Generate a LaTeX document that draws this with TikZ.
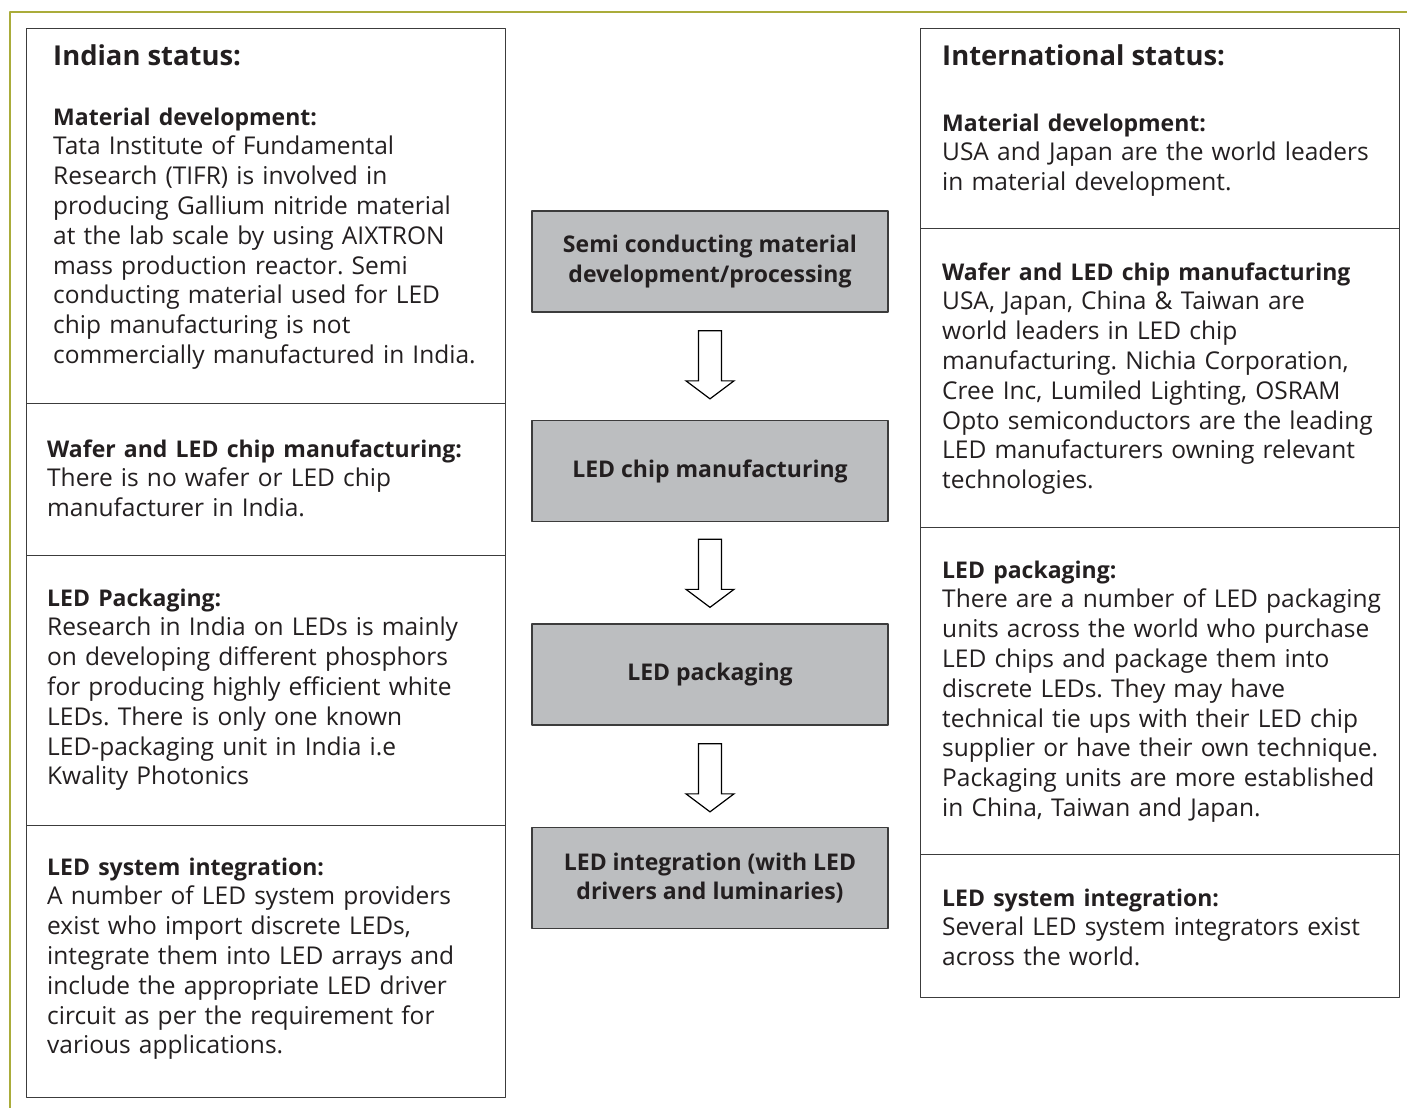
\documentclass[tikz,border=0pt]{standalone}
\usepackage{fontspec}
\setmainfont{Open Sans}
\usetikzlibrary{calc}
\definecolor{framegreen}{RGB}{170,172,58}
\definecolor{inkdark}{RGB}{35,31,32}
\definecolor{stagegrey}{RGB}{188,190,192}
\definecolor{ruledark}{RGB}{60,60,60}
\frenchspacing
\newcommand{\stdsize}{\fontsize{24.5bp}{29.8bp}\selectfont}
\newcommand{\boldsize}{\fontsize{23bp}{29.8bp}\selectfont\bfseries}
\newcommand{\titlesize}{\fontsize{27.4bp}{32bp}\selectfont}
\newcommand{\sechead}[1]{{\boldsize #1}}
\tikzset{
  panel/.style={draw=ruledark,line width=1.3bp,inner sep=0,anchor=north west,minimum width=479bp},
  stage/.style={draw=ruledark,fill=stagegrey,line width=1.3bp,inner sep=0,minimum width=356bp,minimum height=101bp,align=center,font=\boldsize,text=inkdark},
  sect/.style={anchor=base west,inner sep=0,text width=455bp,align=left,font=\stdsize,text=inkdark},
  heading/.style={anchor=base west,inner sep=0,font=\titlesize\bfseries,text=inkdark},
  hollow/.style={draw=black,line width=1.2bp,fill=white,line join=miter},
}
\begin{document}
\begin{tikzpicture}[line join=bevel,]
\useasboundingbox (0bp,0bp) rectangle (1407bp,-1108bp);
\draw [framegreen,line width=1.6bp] (10bp,-1108bp) -- (10bp,-12bp) -- (1407bp,-12bp);
%% Indian status panel
\node (in_panel_1) at (26bp,-28bp) [panel,minimum height=375bp] {};
\node (in_panel_2) at (26bp,-403bp) [panel,minimum height=152bp] {};
\node (in_panel_3) at (26bp,-555bp) [panel,minimum height=270bp] {};
\node (in_panel_4) at (26bp,-825bp) [panel,minimum height=272bp] {};
\node (in_title) at (53bp,-65bp) [heading] {Indian status:};
\node (in_text_1) at (53bp,-125bp) [sect] {\sechead{Material development:}\\
  Tata Institute of Fundamental\\ Research (TIFR) is involved in\\
  producing Gallium nitride material\\ at the lab scale by using AIXTRON\\
  mass production reactor. Semi\\ conducting material used for LED\\
  chip manufacturing is not\\ commercially manufactured in India.};
\node (in_text_2) at (47bp,-457bp) [sect] {\sechead{Wafer and LED chip manufacturing:}\\
  There is no wafer or LED chip\\ manufacturer in India.};
\node (in_text_3) at (47bp,-606bp) [sect] {\sechead{LED Packaging:}\\
  Research in India on LEDs is mainly\\ on developing different phosphors\\
  for producing highly efficient white\\ LEDs. There is only one known\\
  LED-packaging unit in India i.e\\ Kwality Photonics};
\node (in_text_4) at (47bp,-875bp) [sect] {\sechead{LED system integration:}\\
  A number of LED system providers\\ exist who import discrete LEDs,\\
  integrate them into LED arrays and\\ include the appropriate LED driver\\
  circuit as per the requirement for\\ various applications.};
%% value chain
\node (stage_1) at (710bp,-261.5bp) [stage] {Semi conducting material\\development/processing};
\node (stage_2) at (710bp,-471bp) [stage] {LED chip manufacturing};
\node (stage_3) at (710bp,-674.5bp) [stage] {LED packaging};
\node (stage_4) at (710bp,-878bp) [stage] {LED integration (with LED\\drivers and luminaries)};
\draw [hollow] ($(stage_1.south)+(-11.5bp,-18bp)$) -- ($(stage_2.north)+(-11.5bp,39bp)$) -- ++(-12.5bp,0bp) -- ($(stage_2.north)+(0bp,21bp)$) -- ++(24bp,18bp) -- ++(-12.5bp,0bp) -- ($(stage_1.south)+(11.5bp,-18bp)$) -- cycle;
\draw [hollow] ($(stage_2.south)+(-11.5bp,-17bp)$) -- ($(stage_3.north)+(-11.5bp,34bp)$) -- ++(-12.5bp,0bp) -- ($(stage_3.north)+(0bp,16bp)$) -- ++(24bp,18bp) -- ++(-12.5bp,0bp) -- ($(stage_2.south)+(11.5bp,-17bp)$) -- cycle;
\draw [hollow] ($(stage_3.south)+(-11.5bp,-18bp)$) -- ($(stage_4.north)+(-11.5bp,33bp)$) -- ++(-12.5bp,0bp) -- ($(stage_4.north)+(0bp,15bp)$) -- ++(24bp,18bp) -- ++(-12.5bp,0bp) -- ($(stage_3.south)+(11.5bp,-18bp)$) -- cycle;
%% International status panel
\node (int_panel_1) at (920bp,-28bp) [panel,minimum height=200bp] {};
\node (int_panel_2) at (920bp,-228bp) [panel,minimum height=299bp] {};
\node (int_panel_3) at (920bp,-527bp) [panel,minimum height=327bp] {};
\node (int_panel_4) at (920bp,-854bp) [panel,minimum height=143bp] {};
\node (int_title) at (942bp,-65bp) [heading] {International status:};
\node (int_text_1) at (942bp,-131bp) [sect] {\sechead{Material development:}\\
  USA and Japan are the world leaders\\ in material development.};
\node (int_text_2) at (942bp,-280bp) [sect] {\sechead{Wafer and LED chip manufacturing}\\
  USA, Japan, China \& Taiwan are\\ world leaders in LED chip\\
  manufacturing. Nichia Corporation,\\ Cree Inc, Lumiled Lighting, OSRAM\\
  Opto semiconductors are the leading\\ LED manufacturers owning relevant\\
  technologies.};
\node (int_text_3) at (942bp,-578bp) [sect] {\sechead{LED packaging:}\\
  There are a number of LED packaging\\ units across the world who purchase\\
  LED chips and package them into\\ discrete LEDs. They may have\\
  technical tie ups with their LED chip\\ supplier or have their own technique.\\
  Packaging units are more established\\ in China, Taiwan and Japan.};
\node (int_text_4) at (942bp,-906bp) [sect] {\sechead{LED system integration:}\\
  Several LED system integrators exist\\ across the world.};
%
\end{tikzpicture}
\end{document}
